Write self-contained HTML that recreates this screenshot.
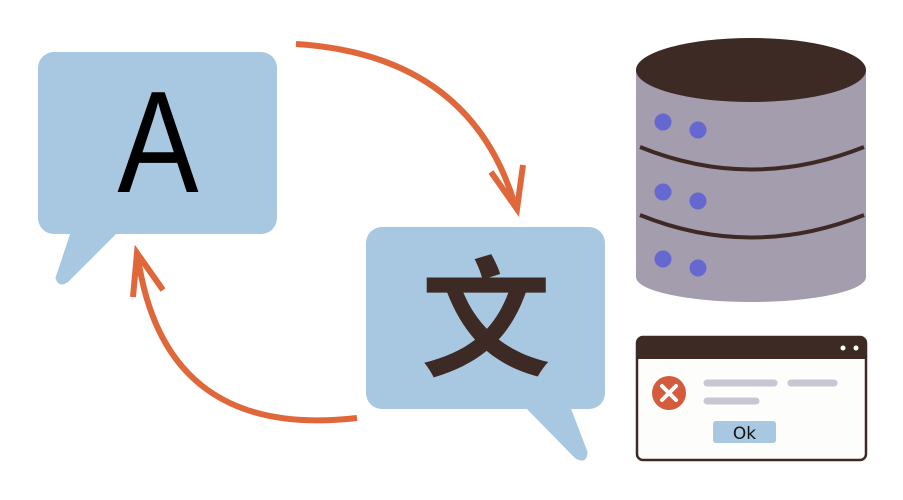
<!DOCTYPE html>
<html><head><meta charset="utf-8"><style>html,body{margin:0;padding:0;background:#fff}svg{display:block}</style></head>
<body>
<svg width="903" height="500" viewBox="0 0 903 500" xmlns="http://www.w3.org/2000/svg">
<!-- bubble A -->
<rect x="38" y="52" width="239" height="182" rx="16" fill="#a8c8e1"/>
<path d="M73 230 L118 230 L68 280 Q60 287 57 278 Z" fill="#a8c8e1" stroke="#a8c8e1" stroke-width="3" stroke-linejoin="round"/>
<text x="0" y="192" transform="translate(158 0) scale(0.84 1)" font-family="Liberation Sans, sans-serif" font-size="145" text-anchor="middle" fill="#000">A</text>
<!-- bubble 文 -->
<rect x="366" y="227" width="239" height="182" rx="16" fill="#a8c8e1"/>
<path d="M525 405 L568 405 L586 452 Q586 463 576 457 Z" fill="#a8c8e1" stroke="#a8c8e1" stroke-width="3" stroke-linejoin="round"/>
<text x="486" y="366" font-family="Noto Sans CJK SC, sans-serif" font-weight="700" font-size="130" text-anchor="middle" fill="#3e2a25">文</text>
<!-- arrows -->
<g stroke="#e0673a" stroke-width="6" fill="none" stroke-linecap="butt">
<path d="M296 44 Q470 55 515 205"/>
<path d="M491 172 L517 209 L523 165"/>
<path d="M357 418 Q165 440 138 258"/>
<path d="M133 297 L137 253 L163 290"/>
</g>
<!-- database -->
<path d="M636 70 L636 277 A115 25 0 0 0 866 277 L866 70 Z" fill="#a39dad"/>
<ellipse cx="751" cy="70" rx="115" ry="32" fill="#3e2a25"/>
<path d="M640 147 Q751 192 864 147" stroke="#3e2a25" stroke-width="4" fill="none"/>
<path d="M640 215 Q751 260 864 215" stroke="#3e2a25" stroke-width="4" fill="none"/>
<g fill="#6568d1">
<circle cx="663" cy="122" r="8.5"/><circle cx="698" cy="130" r="8.5"/>
<circle cx="663" cy="192" r="8.5"/><circle cx="698" cy="201" r="8.5"/>
<circle cx="663" cy="259" r="8.5"/><circle cx="698" cy="268" r="8.5"/>
</g>
<!-- dialog -->
<rect x="637" y="337" width="229" height="123" rx="6" fill="#fdfdfb" stroke="#3e2a25" stroke-width="2.5"/>
<path d="M637 359 L637 343 Q637 337 643 337 L860 337 Q866 337 866 343 L866 359 Z" fill="#3e2a25"/>
<circle cx="843" cy="348" r="2.5" fill="#fff"/><circle cx="856" cy="348" r="2.5" fill="#fff"/>
<circle cx="669" cy="393" r="17" fill="#d45b3c"/>
<path d="M662 386 L676 400 M676 386 L662 400" stroke="#fff" stroke-width="4" stroke-linecap="round"/>
<g stroke="#c6c7d3" stroke-width="7" stroke-linecap="round">
<path d="M707 383 L774 383"/><path d="M791 383 L834 383"/><path d="M707 401 L756 401"/>
</g>
<rect x="713" y="421" width="63" height="22" rx="3" fill="#a8c8e1"/>
<text x="744.5" y="439" font-family="DejaVu Sans, sans-serif" font-size="17" text-anchor="middle" fill="#111">Ok</text>
</svg>
</body></html>
